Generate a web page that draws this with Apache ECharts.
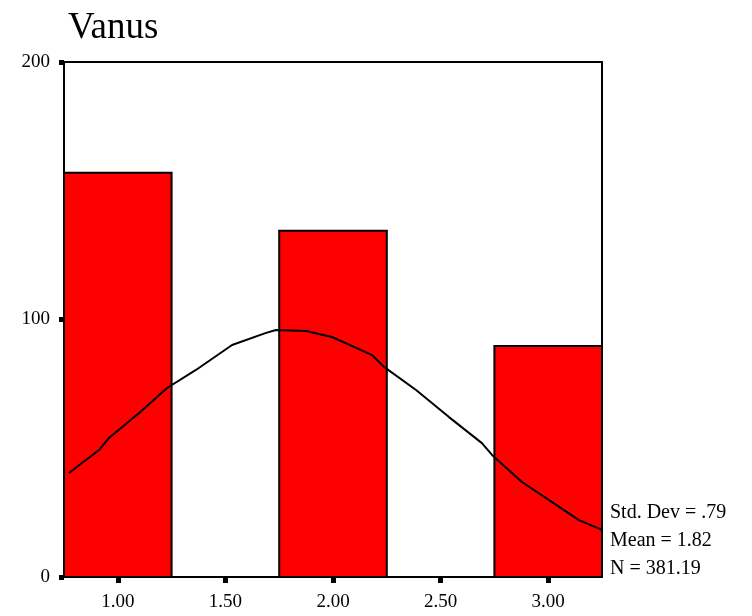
<!DOCTYPE html>
<html>
<head>
<meta charset="utf-8">
<script src="https://cdn.jsdelivr.net/npm/echarts@6/dist/echarts.min.js"></script>
<style>
  html, body { margin: 0; padding: 0; background: #fff; }
  #main { width: 752px; height: 616px; }
</style>
</head>
<body>
<div id="main"></div>
<script>
// histogram bins (Vanus)
var binStart = [0.75, 1.75, 2.75];
var binEnd = [1.25, 2.25, 3.25];
var counts = [157, 134.5, 89.7];

// normal curve
var curveX = [0.773, 0.913, 0.959, 1.099, 1.229, 1.363, 1.531, 1.689, 1.735, 1.875, 1.995, 2.121, 2.181, 2.237, 2.386, 2.539, 2.692, 2.739, 2.878, 3.018, 3.143, 3.25];
var curveY = [40.4, 49.3, 54.0, 63.7, 73.4, 80.4, 90.1, 94.8, 95.9, 95.5, 93.2, 88.5, 86.2, 81.6, 72.6, 62.1, 52.0, 47.4, 36.9, 29.1, 22.1, 18.3];

var xTicks = [1, 1.5, 2, 2.5, 3];
var statLines = ['Std. Dev = .79', 'Mean = 1.82', 'N = 381.19'];

var dom = document.getElementById('main');
var myChart = echarts.init(dom);

var barData = [];
for (var i = 0; i < counts.length; i++) {
    barData.push([binStart[i], binEnd[i], counts[i]]);
}
var lineData = [];
for (var j = 0; j < curveX.length; j++) {
    lineData.push([curveX[j], curveY[j]]);
}

var serif = '"Liberation Serif", "DejaVu Serif", serif';

var option = {
    animation: false,
    backgroundColor: '#fff',
    title: {
        text: 'Vanus',
        left: 63,
        top: 5,
        textStyle: {
            fontFamily: serif,
            fontSize: 37,
            fontWeight: 'normal',
            color: '#000'
        }
    },
    grid: {
        left: 64,
        right: 150,
        top: 62,
        bottom: 39,
        show: true,
        borderColor: '#000',
        borderWidth: 2,
        backgroundColor: '#fff'
    },
    xAxis: {
        type: 'value',
        min: 0.75,
        max: 3.25,
        splitLine: { show: false },
        axisLine: { lineStyle: { color: '#000', width: 2 } },
        axisTick: {
            customValues: xTicks,
            length: 6,
            lineStyle: { color: '#000', width: 5 }
        },
        axisLabel: {
            customValues: xTicks,
            margin: 16,
            fontFamily: serif,
            fontSize: 19,
            color: '#000',
            formatter: function (v) { return v.toFixed(2); }
        }
    },
    yAxis: {
        type: 'value',
        min: 0,
        max: 200,
        interval: 100,
        splitLine: { show: false },
        axisLine: { show: true, lineStyle: { color: '#000', width: 2 } },
        axisTick: {
            show: true,
            length: 5,
            lineStyle: { color: '#000', width: 5 }
        },
        axisLabel: {
            margin: 14,
            fontFamily: serif,
            fontSize: 19,
            color: '#000',
            padding: [4, 0, 0, 0]
        }
    },
    graphic: [
        {
            type: 'text',
            left: 610,
            top: 499,
            style: {
                text: statLines.join('\n'),
                font: '20px ' + serif,
                lineHeight: 28,
                fill: '#000'
            }
        }
    ],
    series: [
        {
            type: 'custom',
            name: 'Vanus',
            z: 2,
            renderItem: function (params, api) {
                var p0 = api.coord([api.value(0), api.value(2)]);
                var p1 = api.coord([api.value(1), 0]);
                return {
                    type: 'rect',
                    shape: { x: p0[0], y: p0[1], width: p1[0] - p0[0], height: p1[1] - p0[1] },
                    style: { fill: '#ff0000', stroke: '#000', lineWidth: 2 }
                };
            },
            encode: { x: [0, 1], y: 2 },
            data: barData
        },
        {
            type: 'line',
            name: 'Normal',
            z: 3,
            symbol: 'none',
            smooth: false,
            lineStyle: { color: '#000', width: 2 },
            data: lineData
        }
    ]
};

if (option && typeof option === 'object') {
    myChart.setOption(option, true);
}
window.addEventListener('resize', function () {
    myChart.resize();
});
</script>
</body>
</html>
